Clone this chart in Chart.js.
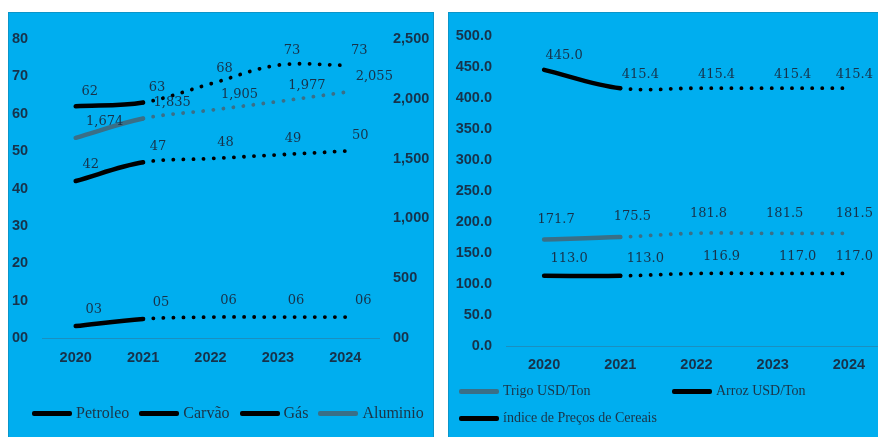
<!DOCTYPE html>
<html>
<head>
<meta charset="utf-8">
<script src="https://cdn.jsdelivr.net/npm/chart.js@4.4.0/dist/chart.umd.min.js"></script>
<style>
  html, body { margin: 0; padding: 0; background: #fff; width: 878px; height: 437px; overflow: hidden; }
  .panel { position: absolute; top: 12px; height: 440px; background: #00aeef; border: 1px solid #0b95c9; box-sizing: border-box; overflow: hidden; }
  #leftPanel { left: 8px; width: 426px; }
  #rightPanel { left: 448px; width: 460px; }
  .panel canvas { position: absolute; left: 0; top: 0; }
  .legend { position: absolute; font-family: 'Liberation Serif', serif; color: #1b3447; }
  .legend .item { display: flex; align-items: center; height: 18px; white-space: nowrap; }
  .legend .swatch { width: 40px; height: 5px; border-radius: 2px; margin-right: 4px; }
  #leftLegend { left: 23px; top: 391px; display: flex; gap: 10px; font-size: 16px; }
  #rightLegend { left: 10px; top: 369px; display: grid; grid-template-columns: 213px 213px; row-gap: 9px; font-size: 14px; }
</style>
</head>
<body>
<div class="panel" id="leftPanel">
  <canvas id="leftChart" width="424" height="424"></canvas>
  <div class="legend" id="leftLegend"></div>
</div>
<div class="panel" id="rightPanel">
  <canvas id="rightChart" width="443" height="424"></canvas>
  <div class="legend" id="rightLegend"></div>
</div>
<script>
const years = ['2020', '2021', '2022', '2023', '2024'];

// left chart: energia e metais
const petroleo = [62, 63, 68, 73, 73];
const carvao = [42, 47, 48, 49, 50];
const gas = [3.2, 5.1, 5.6, 5.6, 5.6];
const aluminio = [1674, 1835, 1905, 1977, 2055];

// right chart: cereais
const trigo = [171.7, 175.5, 181.8, 181.5, 181.5];
const arroz = [445.0, 415.4, 415.4, 415.4, 415.4];
const indiceCereais = [113.0, 113.0, 116.9, 117.0, 117.0];

const textColor = '#17324a';
const tealLine = '#3a6f87';
const tickFont = { family: 'Liberation Sans', size: 14.5, weight: 'bold' };

// solid for actual values (2020-2021), dotted for projections
const dottedSegment = {
      borderDash: ctx => ctx.p0DataIndex >= 1 ? [0.1, 10] : undefined,
      borderWidth: ctx => ctx.p0DataIndex >= 1 ? 3.8 : 4.5
};

function twoDigits(v)
{
      return String(Math.round(v)).padStart(2, '0');
}

const pointLabels = {
      id: 'pointLabels',
      afterDatasetsDraw(chart, args, opts)
      {
            const ctx = chart.ctx;
            ctx.save();
            ctx.font = '13px "DejaVu Serif"';
            ctx.fillStyle = textColor;
            ctx.textAlign = 'center';
            ctx.textBaseline = 'middle';
            chart.data.datasets.forEach((ds, i) =>
            {
                  const meta = chart.getDatasetMeta(i);
                  const off = opts.offsets[i];
                  meta.data.forEach((pt, j) =>
                  {
                        const text = opts.formats[i](ds.data[j]);
                        const w = ctx.measureText(text).width;
                        let x = pt.x + off[0];
                        if (opts.maxX && x + w / 2 > opts.maxX) x = opts.maxX - w / 2;
                        ctx.fillText(text, x, pt.y + off[1]);
                  });
            });
            ctx.restore();
      }
};

function buildLegend(chart, el)
{
      chart.data.datasets.forEach(ds =>
      {
            const item = document.createElement('div');
            item.className = 'item';
            const sw = document.createElement('span');
            sw.className = 'swatch';
            sw.style.background = ds.borderColor;
            const txt = document.createElement('span');
            txt.textContent = ds.label;
            item.appendChild(sw);
            item.appendChild(txt);
            el.appendChild(item);
      });
}

function lineSet(label, data, color, axis)
{
      return {
            label: label,
            data: data,
            borderColor: color,
            backgroundColor: color,
            borderWidth: 4.5,
            borderCapStyle: 'round',
            tension: 0.35,
            pointRadius: 0,
            yAxisID: axis,
            segment: dottedSegment
      };
}

const noGrid = { display: false, drawTicks: false };

const leftChart = new Chart(document.getElementById('leftChart'), {
      type: 'line',
      data: {
            labels: years,
            datasets: [
                  lineSet('Petroleo', petroleo, '#000000', 'y'),
                  lineSet('Carvão', carvao, '#000000', 'y'),
                  lineSet('Gás', gas, '#000000', 'y'),
                  lineSet('Aluminio', aluminio, tealLine, 'y1')
            ]
      },
      options: {
            responsive: false,
            animation: false,
            layout: { padding: { left: 3, top: 26, right: 0, bottom: 55 } },
            scales: {
                  x: {
                        offset: true,
                        grid: noGrid,
                        border: { display: true, color: '#1a8fc0', width: 1 },
                        ticks: { color: textColor, font: tickFont, padding: 11 },
                        afterFit: s => { s.height = 44; }
                  },
                  y: {
                        position: 'left',
                        min: 0, max: 80,
                        grid: noGrid,
                        border: { display: false },
                        ticks: { stepSize: 10, color: textColor, font: tickFont, crossAlign: 'far', callback: v => twoDigits(v) },
                        afterFit: s => { s.width = 30; }
                  },
                  y1: {
                        position: 'right',
                        min: 0, max: 2500,
                        grid: noGrid,
                        border: { display: false },
                        ticks: { stepSize: 500, color: textColor, font: tickFont, padding: 14, callback: v => v === 0 ? '00' : v.toLocaleString('en-US') },
                        afterFit: s => { s.width = 54; }
                  }
            },
            plugins: {
                  legend: { display: false },
                  tooltip: { enabled: false },
                  pointLabels: {
                        offsets: [[14, -15], [15, -16], [18, -16], [29, -16]],
                        formats: [twoDigits, twoDigits, twoDigits, v => v.toLocaleString('en-US')]
                  }
            }
      },
      plugins: [pointLabels]
});
buildLegend(leftChart, document.getElementById('leftLegend'));

const rightChart = new Chart(document.getElementById('rightChart'), {
      type: 'line',
      data: {
            labels: years,
            datasets: [
                  lineSet('Trigo USD/Ton', trigo, tealLine, 'y'),
                  lineSet('Arroz USD/Ton', arroz, '#000000', 'y'),
                  lineSet('índice de Preços de Cereais', indiceCereais, '#000000', 'y')
            ]
      },
      options: {
            responsive: false,
            animation: false,
            layout: { padding: { left: 0, top: 19, right: 5, bottom: 47 } },
            scales: {
                  x: {
                        offset: true,
                        grid: noGrid,
                        border: { display: true, color: '#1a8fc0', width: 1 },
                        ticks: { color: textColor, font: tickFont, padding: 10 },
                        afterFit: s => { s.height = 44; }
                  },
                  y: {
                        min: 0, max: 500,
                        grid: noGrid,
                        border: { display: false },
                        ticks: { stepSize: 50, color: textColor, font: tickFont, padding: 14, callback: v => v.toFixed(1) },
                        afterFit: s => { s.width = 57; }
                  }
            },
            plugins: {
                  legend: { display: false },
                  tooltip: { enabled: false },
                  pointLabels: {
                        maxX: 424,
                        offsets: [[12, -20], [20, -14], [25, -17]],
                        formats: [v => v.toFixed(1), v => v.toFixed(1), v => v.toFixed(1)]
                  }
            }
      },
      plugins: [pointLabels]
});
buildLegend(rightChart, document.getElementById('rightLegend'));
</script>
</body>
</html>
